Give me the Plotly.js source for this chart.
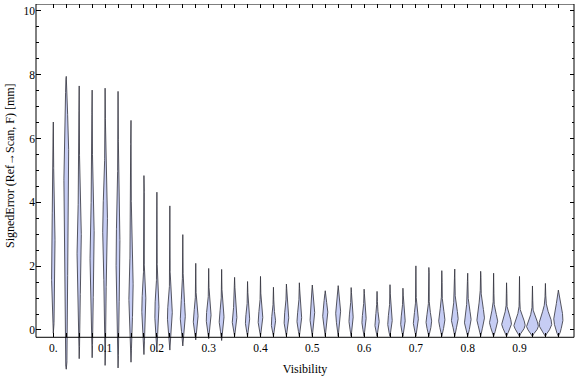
<!DOCTYPE html>
<html><head><meta charset="utf-8">
<script src="https://cdn.plot.ly/plotly-3.0.1.min.js"></script>
<style>html,body{margin:0;padding:0;background:#fff}#chart{width:576px;height:377px}</style>
</head><body><div id="chart"></div>
<script>
// ---- data ----
const visibility = [0.000,0.025,0.050,0.075,0.100,0.125,0.150,0.175,0.200,0.225,
                    0.250,0.275,0.300,0.325,0.350,0.375,0.400,0.425,0.450,0.475,
                    0.500,0.525,0.550,0.575,0.600,0.625,0.650,0.675,0.700,0.725,
                    0.750,0.775,0.800,0.825,0.850,0.875,0.900,0.925,0.950,0.975];
const errMax = [6.52,7.95,7.65,7.52,7.58,7.48,6.57,4.84,4.32,3.89,
                2.99,2.09,1.93,1.90,1.65,1.52,1.68,1.34,1.44,1.48,
                1.41,1.23,1.39,1.33,1.28,1.21,1.42,1.31,2.01,1.96,
                1.86,1.91,1.78,1.84,1.78,1.48,1.68,1.38,1.46,1.25];
const errMin = [-0.10,-1.23,-0.90,-0.87,-1.11,-1.19,-1.01,-0.77,-0.67,-0.63,
                -0.50,-0.31,-0.27,-0.33,-0.20,-0.20,-0.20,-0.20,-0.20,-0.20,
                -0.20,-0.20,-0.20,-0.20,-0.20,-0.20,-0.20,-0.20,-0.20,-0.20,
                -0.20,-0.20,-0.20,-0.20,-0.20,-0.20,-0.20,-0.20,-0.20,-0.20];
const errMode = [2.2,5.6,2.7,2.6,3.3,2.3,1.2,0.7,0.55,0.45,
                 0.40,0.31,0.36,0.30,0.30,0.26,0.30,0.22,0.30,0.30,
                 0.45,0.50,0.50,0.30,0.26,0.20,0.22,0.22,0.25,0.25,
                 0.30,0.35,0.30,0.35,0.25,0.20,0.15,0.12,0.18,0.35];
const peakDensity = [1.6,2.1,1.9,1.9,2.1,1.7,1.9,1.9,1.9,2.2,
                     2.2,2.2,2.2,2.2,2.1,1.9,2.1,1.9,2.1,2.1,
                     2.2,2.3,2.2,1.9,1.9,1.9,2.0,2.0,2.3,2.5,
                     2.8,3.1,3.1,3.5,3.8,4.6,5.3,5.6,6.0,4.3];
const spreadUp = [1.2,1.0,0.9,1.0,0.9,1.2,0.8,0.5,0.45,0.4,
                  0.5,0.3,0.3,0.3,0.28,0.25,0.28,0.25,0.28,0.28,
                  0.3,0.3,0.3,0.25,0.25,0.25,0.25,0.25,0.25,0.25,
                  0.3,0.3,0.3,0.35,0.25,0.22,0.22,0.22,0.3,0.35];
const spreadDown = [1.2,3.5,1.2,1.2,1.4,1.2,0.8,0.5,0.4,0.35,
                    0.35,0.25,0.25,0.25,0.22,0.2,0.22,0.2,0.22,0.22,
                    0.28,0.3,0.3,0.22,0.2,0.2,0.2,0.2,0.2,0.2,
                    0.22,0.22,0.22,0.22,0.2,0.18,0.16,0.15,0.18,0.3];
const xTickText = ["0.","","","","0.1","","","","0.2","",
                   "","","0.3","","","","0.4","","","",
                   "0.5","","","","0.6","","","","0.7","",
                   "","","0.8","","","","0.9","","",""];
const yTickVals = [0,2,4,6,8,10];
const yTickText = ["0","2","4","6","8","10"];
const yMinorVals = [0.5,1,1.5,2.5,3,3.5,4.5,5,5.5,6.5,7,7.5,8.5,9,9.5];

// ---- geometry / style ----
const W = 576, H = 377;
const M = {l:36, r:2, t:4, b:5};
const X_RANGE = [-0.0334, 1.0052];
const Y_RANGE = [-1.317, 10.219];
const FRAME_BOTTOM = -0.229;
const plotW = W - M.l - M.r, plotH = H - M.t - M.b;
const pxToX = (X_RANGE[1]-X_RANGE[0]) / plotW;
const bottomAxisPos = (FRAME_BOTTOM - Y_RANGE[0]) / (Y_RANGE[1]-Y_RANGE[0]);
const FONT = 'Liberation Serif, Times New Roman, serif';
const STEM = 0.3;

function halfWidthPx(i, y) {
  const m = errMode[i];
  const s = y < m ? spreadDown[i] : spreadUp[i];
  const z = (y - m) / s;
  const bump = peakDensity[i] * Math.exp(-0.5*z*z);
  const taper = Math.max(0, Math.min(1, (y-errMin[i])/0.12, (errMax[i]-y)/0.12));
  return (bump + STEM) * taper;
}

const traces = [];
const N = 200;
visibility.forEach((v, i) => {
  const ys = [];
  for (let k = 0; k <= N; k++) ys.push(errMin[i] + (errMax[i]-errMin[i]) * k / N);
  const xr = ys.map(y => v + halfWidthPx(i, y) * pxToX);
  const xl = ys.map(y => v - halfWidthPx(i, y) * pxToX).reverse();
  traces.push({
    type:'scatter', mode:'lines', x: xr.concat(xl), y: ys.concat(ys.slice().reverse()),
    fill:'toself', fillcolor:'#c6cdf4',
    line:{color:'rgba(50,50,60,0.9)', width:0.9},
    hoverinfo:'skip', showlegend:false, xaxis:'x', yaxis:'y'
  });
});
traces.push({type:'scatter', x:[], y:[], xaxis:'x2', yaxis:'y', showlegend:false, hoverinfo:'skip'});

const layout = {
  width: W, height: H, margin: M,
  paper_bgcolor:'#fff', plot_bgcolor:'rgba(0,0,0,0)',
  showlegend:false,
  xaxis: {
    range: X_RANGE, side:'top', anchor:'y',
    tickmode:'array', tickvals: visibility, showticklabels:false,
    ticks:'inside', ticklen:4, tickcolor:'#000', tickwidth:1,
    showgrid:false, zeroline:false, showline:false
  },
  xaxis2: {
    range: X_RANGE, overlaying:'x', anchor:'free', position: bottomAxisPos, side:'bottom',
    tickmode:'array', tickvals: visibility, ticktext: xTickText,
    ticks:'inside', ticklen:4, tickcolor:'#000', tickwidth:1, ticklabelstandoff:2,
    tickfont:{family:FONT, size:11.5, color:'#000'},
    showgrid:false, zeroline:false, showline:false,
    title:{text:'Visibility', font:{family:FONT, size:12, color:'#000'}, standoff:11},
    automargin:false
  },
  yaxis: {
    range: Y_RANGE, anchor:'x',
    tickmode:'array', tickvals: yTickVals, ticktext: yTickText,
    ticks:'inside', ticklen:4.5, tickcolor:'#000', tickwidth:1, mirror:'ticks',
    minor:{tickvals: yMinorVals, ticks:'inside', ticklen:2.5, tickcolor:'#000', tickwidth:1, showgrid:false},
    tickfont:{family:FONT, size:11.5, color:'#000'},
    showgrid:false, zeroline:false, showline:false, automargin:false
  },
  shapes: [{type:'rect', xref:'paper', x0:0, x1:1, yref:'y', y0:FRAME_BOTTOM, y1:Y_RANGE[1],
            line:{color:'#000', width:1}, fillcolor:'rgba(0,0,0,0)', layer:'above'}],
  annotations: [{text:'SignedError (Ref→Scan, F) [mm]', xref:'paper', yref:'y',
                 x: (10 - M.l)/plotW, y: 5.14, xanchor:'center', yanchor:'middle',
                 textangle:-90, showarrow:false,
                 font:{family:FONT, size:12, color:'#000'}}]
};

Plotly.newPlot('chart', traces, layout, {staticPlot:true, displayModeBar:false});
</script>
</body></html>
